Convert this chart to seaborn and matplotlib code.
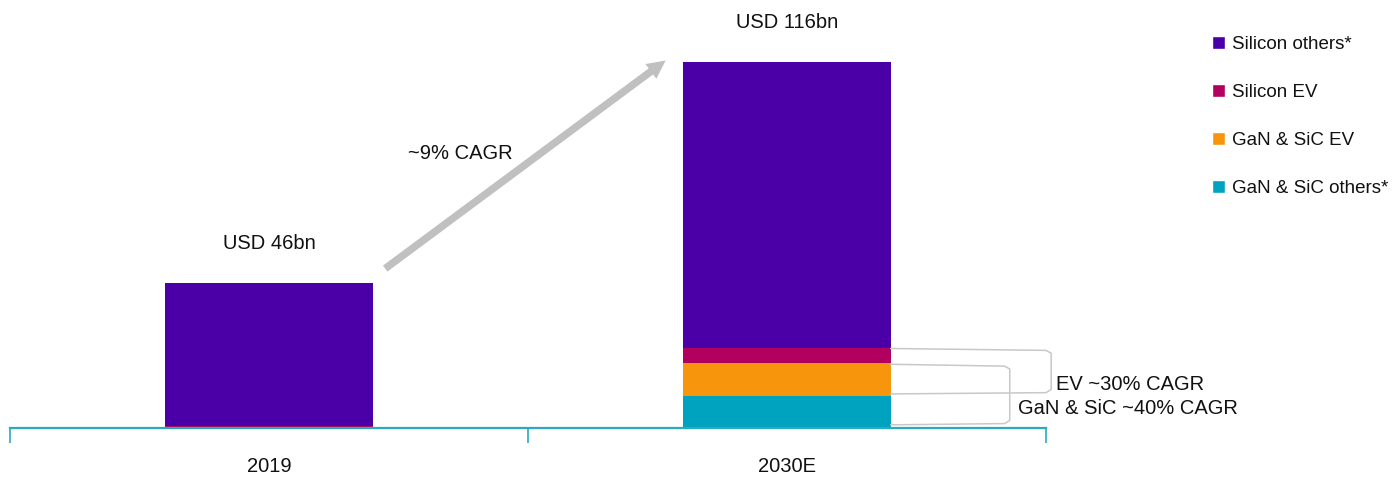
import matplotlib
matplotlib.use("Agg")
import matplotlib.pyplot as plt
import seaborn as sns
import pandas as pd
import numpy as np
from matplotlib.patches import Patch

# --- Daten (USD bn) ---
years = ["2019", "2030E"]
silicon_others = [45.3, 90.5]
silicon_ev = [0.5, 5.0]
gan_sic_ev = [0.1, 10.5]
gan_sic_others = [0.1, 10.0]
totals_label = ["USD 46bn", "USD 116bn"]
segments = ["GaN & SiC others*", "GaN & SiC EV", "Silicon EV", "Silicon others*"]
colors = {"Silicon others*": "#4A00A6", "Silicon EV": "#B2005E",
          "GaN & SiC EV": "#F7960C", "GaN & SiC others*": "#00A3BF"}

df = pd.DataFrame({"year": years,
                   "GaN & SiC others*": gan_sic_others,
                   "GaN & SiC EV": gan_sic_ev,
                   "Silicon EV": silicon_ev,
                   "Silicon others*": silicon_others})
# kumulierte Höhen fürs Stapeln
cum = df[segments].cumsum(axis=1)
cum["year"] = df["year"]

sns.set_theme(style="white")
plt.rcParams["font.family"] = ["Liberation Sans", "DejaVu Sans"]
FS = 14.5

fig = plt.figure(figsize=(13.96, 4.82), dpi=100)
ax = fig.add_axes([10 / 1396, 54 / 482, 1036 / 1396, 398 / 482])

# größtes zuerst zeichnen, dann darüber die kleineren
for seg in segments[::-1]:
    sns.barplot(data=cum, x="year", y=seg, color=colors[seg], width=0.4,
                saturation=1, ax=ax, linewidth=0)

total = cum["Silicon others*"].values
ax.set_xlim(-0.5, 1.5)
ax.set_ylim(0, total[1] * 398 / 366)

for i, lab in enumerate(totals_label):
    ax.text(i, total[i] + 9.5, lab, ha="center", va="bottom", fontsize=FS, color="#111111")

# Achse
for s in ["top", "left", "right"]:
    ax.spines[s].set_visible(False)
ax.spines["bottom"].set_color("#2AAAC0")
ax.spines["bottom"].set_linewidth(1.6)
ax.set_yticks([])
ax.set_xlabel("")
ax.set_ylabel("")
ax.set_xticks([-0.5, 0.5, 1.5], minor=True)
ax.tick_params(axis="x", which="minor", direction="out", length=11, width=1.2,
               color="#2AAAC0", bottom=True)
ax.tick_params(axis="x", which="major", length=0, pad=21, labelsize=FS, labelcolor="#111111")

# CAGR Pfeil
ax.annotate("", xy=(0.77, total[1] + 1), xytext=(0.22, total[0] + 4),
            arrowprops=dict(arrowstyle="simple,head_width=1.1,head_length=1.1,tail_width=0.45",
                            color="#C0C0C0", lw=0))
ax.text(0.37, 87, "~9% CAGR", ha="center", va="center", fontsize=FS, color="#111111")

# Klammern rechts
x0 = 1 + 0.2
c = cum.iloc[1]
ev_top, ev_bot = c["Silicon EV"] - 0.3, c["GaN & SiC others*"] + 1.2
g_top, g_bot = c["GaN & SiC EV"] - 0.3, 1.4
bracket_kw = dict(color="#C8C8C8", lw=1.1, clip_on=False)
ax.plot([x0, 1.5, 1.51, 1.51, 1.5, x0], [ev_top, ev_top - 0.6, ev_top - 1.5, ev_bot + 1, ev_bot, ev_bot - 0.4], **bracket_kw)
ax.plot([x0, 1.42, 1.43, 1.43, 1.42, x0], [g_top, g_top - 0.6, g_top - 1.5, g_bot + 1, g_bot, g_bot - 0.4], **bracket_kw)
ax.text(1.52, (ev_top + ev_bot) / 2 - 4.5, "EV ~30% CAGR", ha="left", va="center",
        fontsize=FS, clip_on=False, color="#111111")
ax.text(1.445, g_bot + 4.8, "GaN & SiC ~40% CAGR", ha="left", va="center",
        fontsize=FS, clip_on=False, color="#111111")

# Legende
handles = [Patch(facecolor=colors[s], label=s) for s in segments[::-1]]
fig.legend(handles=handles, loc="upper left", bbox_to_anchor=(1204 / 1396, 1 - 28 / 482),
           frameon=False, fontsize=13.5, handlelength=0.7, handleheight=0.7,
           handletextpad=0.4, labelspacing=1.65, borderaxespad=0, labelcolor="#111111")

fig.savefig("out.png", dpi=100)
